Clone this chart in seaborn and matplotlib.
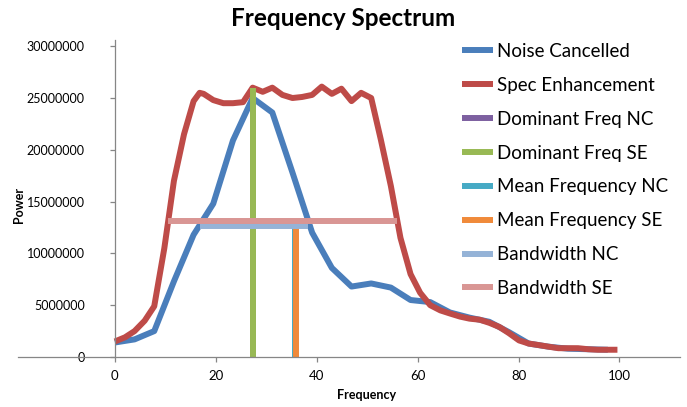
import matplotlib
matplotlib.use("Agg")
import matplotlib.pyplot as plt
from matplotlib.ticker import FixedLocator, FuncFormatter
import pandas as pd
import seaborn as sns

# frequency bins and power values
nc_freq = [0, 3.9, 7.8, 11.7, 15.6, 19.5, 23.4, 27.3, 31.2, 35.2, 39.1, 43.0,
           46.9, 50.8, 54.7, 58.6, 62.5, 66.4, 70.3, 74.2, 78.1, 82.0, 85.9,
           89.8, 93.8, 97.7]
nc_power = [1.4e6, 1.7e6, 2.5e6, 7.3e6, 11.8e6, 14.8e6, 20.9e6, 25.0e6, 23.6e6,
            17.8e6, 12.0e6, 8.6e6, 6.8e6, 7.1e6, 6.7e6, 5.5e6, 5.3e6, 4.3e6,
            3.8e6, 3.4e6, 2.4e6, 1.3e6, 1.0e6, 0.8e6, 0.75e6, 0.7e6]

se_freq = [0, 2.0, 3.9, 5.9, 7.8, 9.8, 11.7, 13.7, 15.6, 16.8, 17.6, 19.5,
           21.5, 23.4, 25.4, 27.3, 29.3, 31.2, 33.2, 35.2, 37.1, 39.1, 41.0,
           43.0, 44.9, 46.9, 48.8, 50.8, 52.7, 54.7, 56.6, 58.6, 60.5, 62.5,
           64.5, 66.4, 68.4, 70.3, 72.3, 74.2, 76.2, 78.1, 80.1, 82.0, 84.0,
           85.9, 87.9, 89.8, 91.8, 93.8, 95.7, 97.7, 99.6]
se_power = [1.5e6, 1.9e6, 2.5e6, 3.5e6, 4.9e6, 10.5e6, 17.0e6, 21.5e6, 24.7e6,
            25.5e6, 25.4e6, 24.8e6, 24.5e6, 24.5e6, 24.6e6, 26.0e6, 25.6e6,
            26.0e6, 25.3e6, 25.0e6, 25.1e6, 25.3e6, 26.1e6, 25.4e6, 25.9e6,
            24.7e6, 25.5e6, 25.0e6, 21.0e6, 16.5e6, 11.5e6, 8.0e6, 6.2e6,
            5.0e6, 4.5e6, 4.2e6, 3.9e6, 3.7e6, 3.6e6, 3.3e6, 2.9e6, 2.3e6,
            1.6e6, 1.3e6, 1.15e6, 1.0e6, 0.85e6, 0.85e6, 0.85e6, 0.75e6,
            0.7e6, 0.7e6, 0.7e6]

dom_nc_x = [27.3, 27.3]
dom_nc_y = [0, 25.0e6]
dom_se_x = [27.3, 27.3]
dom_se_y = [0, 26.0e6]
mean_nc_x = [35.6, 35.6]
mean_nc_y = [0, 12.5e6]
mean_se_x = [35.8, 35.8]
mean_se_y = [0, 12.5e6]
bw_nc_x = [16.8, 38.2]
bw_nc_y = [12.6e6, 12.6e6]
bw_se_x = [10.5, 56.0]
bw_se_y = [13.1e6, 13.1e6]

series = [
    ("Noise Cancelled", nc_freq, nc_power, "#4A7EBB"),
    ("Spec Enhancement", se_freq, se_power, "#BE4B48"),
    ("Dominant Freq NC", dom_nc_x, dom_nc_y, "#7D60A0"),
    ("Dominant Freq SE", dom_se_x, dom_se_y, "#98B954"),
    ("Mean Frequency NC", mean_nc_x, mean_nc_y, "#46AAC5"),
    ("Mean Frequency SE", mean_se_x, mean_se_y, "#F08A3A"),
    ("Bandwidth NC", bw_nc_x, bw_nc_y, "#95B3D7"),
    ("Bandwidth SE", bw_se_x, bw_se_y, "#D99694"),
]

sns.set_style("white")
plt.rcParams['font.family'] = ['Lato', 'DejaVu Sans']
plt.rcParams['text.color'] = 'black'
plt.rcParams['xtick.labelcolor'] = 'black'
plt.rcParams['ytick.labelcolor'] = 'black'

fig = plt.figure(figsize=(6.87, 4.07), dpi=100)
ax = fig.add_axes([18 / 687, 50 / 407, 662 / 687, 317 / 407])

for name, xs, ys, col in series:
    df = pd.DataFrame({"Frequency": xs, "Power": ys})
    sns.lineplot(data=df, x="Frequency", y="Power", ax=ax, color=col,
                 linewidth=4.3, sort=False, estimator=None, label=name,
                 solid_capstyle="butt", solid_joinstyle="round")

ax.set_xlim(-19.2, 112)
ax.set_ylim(0, 30.6e6)

ax.spines['left'].set_position(('data', 0))
ax.spines['left'].set_bounds(0, 30.6e6)
ax.spines['top'].set_visible(False)
ax.spines['right'].set_visible(False)
for s in ['left', 'bottom']:
    ax.spines[s].set_color('#868686')
    ax.spines[s].set_linewidth(0.9)

ax.xaxis.set_major_locator(FixedLocator([0, 20, 40, 60, 80, 100]))
ax.yaxis.set_major_locator(FixedLocator([i * 5000000 for i in range(7)]))
ax.yaxis.set_major_formatter(FuncFormatter(lambda v, p: "%d" % v))
ax.tick_params(axis='x', direction='out', length=3.6, width=0.9, color='#868686',
               labelsize=9.5, pad=6, bottom=True, labelcolor='black')
ax.tick_params(axis='y', direction='out', length=3.6, width=0.9, color='#868686',
               labelsize=9, pad=18, left=True, labelcolor='black')
for lab in ax.get_yticklabels():
    lab.set_bbox(dict(facecolor='white', edgecolor='none', pad=9))

ax.set_xlabel("")
ax.set_ylabel("")
fig.text(367 / 687, 1 - 395 / 407, "Frequency", ha='center', va='center',
         fontsize=9, fontweight='bold', color='black')
fig.text(19 / 687, 1 - 205 / 407, "Power", ha='center', va='center',
         fontsize=9, fontweight='bold', rotation=90, color='black')
fig.text(343 / 687, 1 - 19 / 407, "Frequency Spectrum", ha='center',
         va='center', fontsize=17.5, fontweight='bold', color='black')

leg = ax.legend(loc='upper left', bbox_to_anchor=(445 / 687, 1 - 26 / 407),
                bbox_transform=fig.transFigure, frameon=False, fontsize=13.5,
                handlelength=1.65, handletextpad=0.2, labelspacing=0.9)
for line in leg.get_lines():
    line.set_linewidth(4.3)
for txt in leg.get_texts():
    txt.set_color('black')

fig.savefig("out.png", dpi=100)
